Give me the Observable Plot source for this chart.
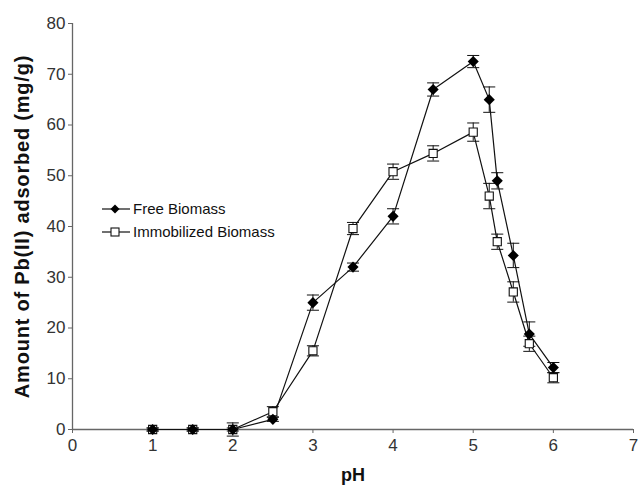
<!DOCTYPE html>
<html>
<head>
<meta charset="utf-8">
<script src="https://cdn.jsdelivr.net/npm/d3@7"></script>
<script src="https://cdn.jsdelivr.net/npm/@observablehq/plot@0.6"></script>
<style>
  html, body { margin: 0; padding: 0; background: #fff; }
  #wrap { position: relative; width: 638px; height: 487px; font-family: "Liberation Sans", Arial, sans-serif; }
  #legend { position: absolute; left: 100px; top: 197px; font-size: 15px; color: #111; }
  #legend .row { display: flex; align-items: center; height: 23px; }
  #legend svg { margin-right: 1px; }
  .ytitle text { letter-spacing: 0.8px; }
  .tickax text { font-size: 17px; }
</style>
</head>
<body>
<div id="wrap"><div id="chart"></div><div id="legend"></div></div>
<script>
// pH values at which adsorption was measured
const pH = [1, 1.5, 2, 2.5, 3, 3.5, 4, 4.5, 5, 5.2, 5.3, 5.5, 5.7, 6];

// Pb(II) uptake (mg/g) and standard deviations
const freeUptake = [0, 0, 0, 2, 25, 32, 42, 67, 72.5, 65, 49, 34.3, 18.8, 12.2];
const freeErr    = [0.3, 0.3, 0.3, 0.4, 1.5, 0.8, 1.5, 1.3, 1.2, 2.5, 1.6, 2.4, 2.4, 1.0];
const immUptake  = [0, 0, 0, 3.5, 15.5, 39.6, 50.8, 54.4, 58.6, 46, 37, 27.1, 16.9, 10.2];
const immErr     = [0.3, 0.3, 1.3, 1.0, 1.0, 1.2, 1.5, 1.5, 1.8, 2.5, 1.5, 2.0, 1.5, 1.0];

const seriesNames = ["Free Biomass", "Immobilized Biomass"];
const xTicks = [0, 1, 2, 3, 4, 5, 6, 7];
const yTicks = [0, 10, 20, 30, 40, 50, 60, 70, 80];

const free = pH.map((x, i) => ({x, y: freeUptake[i], e: freeErr[i]}));
const imm  = pH.map((x, i) => ({x, y: immUptake[i], e: immErr[i]}));

// horizontal cap used at the ends of the error bars
const cap = {draw(ctx, size) { const w = Math.sqrt(size); ctx.moveTo(-w, 0); ctx.lineTo(w, 0); }};

function errorMarks(data) {
  return [
    Plot.ruleX(data, {x: "x", y1: d => d.y - d.e, y2: d => d.y + d.e, stroke: "#111", strokeWidth: 1}),
    Plot.dot(data, {x: "x", y: d => d.y + d.e, symbol: cap, r: 3.4, stroke: "#111", strokeWidth: 1, fill: "none"}),
    Plot.dot(data, {x: "x", y: d => d.y - d.e, symbol: cap, r: 3.4, stroke: "#111", strokeWidth: 1, fill: "none"})
  ];
}

const chart = Plot.plot({
  width: 638,
  height: 487,
  marginLeft: 72,
  marginRight: 5,
  marginTop: 23,
  marginBottom: 58,
  style: {fontFamily: "'Liberation Sans', Arial, sans-serif", background: "#fff"},
  x: {domain: [0, 7]},
  y: {domain: [0, 80]},
  marks: [
    Plot.axisX({ticks: xTicks, tickFormat: d3.format("d"), tickSize: 4, tickPadding: 5, fontSize: 17, stroke: "#666", fill: "#333", label: null, className: "tickax"}),
    Plot.axisY({ticks: yTicks, tickFormat: d3.format("d"), tickSize: 4, tickPadding: 3, fontSize: 17, stroke: "#666", fill: "#333", label: null, className: "tickax"}),
    Plot.ruleY([0], {stroke: "#666", strokeWidth: 1.3}),
    Plot.ruleX([0], {stroke: "#666", strokeWidth: 1.3}),
    Plot.line(imm, {x: "x", y: "y", stroke: "#111", strokeWidth: 1.2}),
    Plot.line(free, {x: "x", y: "y", stroke: "#111", strokeWidth: 1.2}),
    ...errorMarks(imm),
    ...errorMarks(free),
    Plot.dot(imm, {x: "x", y: "y", symbol: "square", r: 4.6, fill: "#fff", stroke: "#111", strokeWidth: 1.1}),
    Plot.dot(free, {x: "x", y: "y", symbol: "diamond2", r: 5, fill: "#000", stroke: "none"}),
    Plot.text(["pH"], {frameAnchor: "bottom", dy: 51, fontSize: 18, fontWeight: "bold", fill: "#111", lineAnchor: "bottom"}),
    Plot.text(["Amount of Pb(II) adsorbed (mg/g)"], {frameAnchor: "left", textAnchor: "middle", dx: -50, rotate: -90, fontSize: 20, fontWeight: "bold", fill: "#111", lineAnchor: "middle", className: "ytitle"})
  ]
});
document.getElementById("chart").append(chart);

// legend drawn beside the curves
const legend = document.getElementById("legend");
seriesNames.forEach((name, i) => {
  const row = document.createElement("div");
  row.className = "row";
  const sym = i === 0
    ? '<path d="M15,5.5 L19.5,10 L15,14.5 L10.5,10 Z" fill="#000"/>'
    : '<rect x="11" y="6" width="8" height="8" fill="#fff" stroke="#111" stroke-width="1.1"/>';
  row.innerHTML = `<svg width="32" height="20"><line x1="2" x2="30" y1="10" y2="10" stroke="#111" stroke-width="1.2"/>${sym}</svg><span>${name}</span>`;
  legend.append(row);
});
</script>
</body>
</html>
